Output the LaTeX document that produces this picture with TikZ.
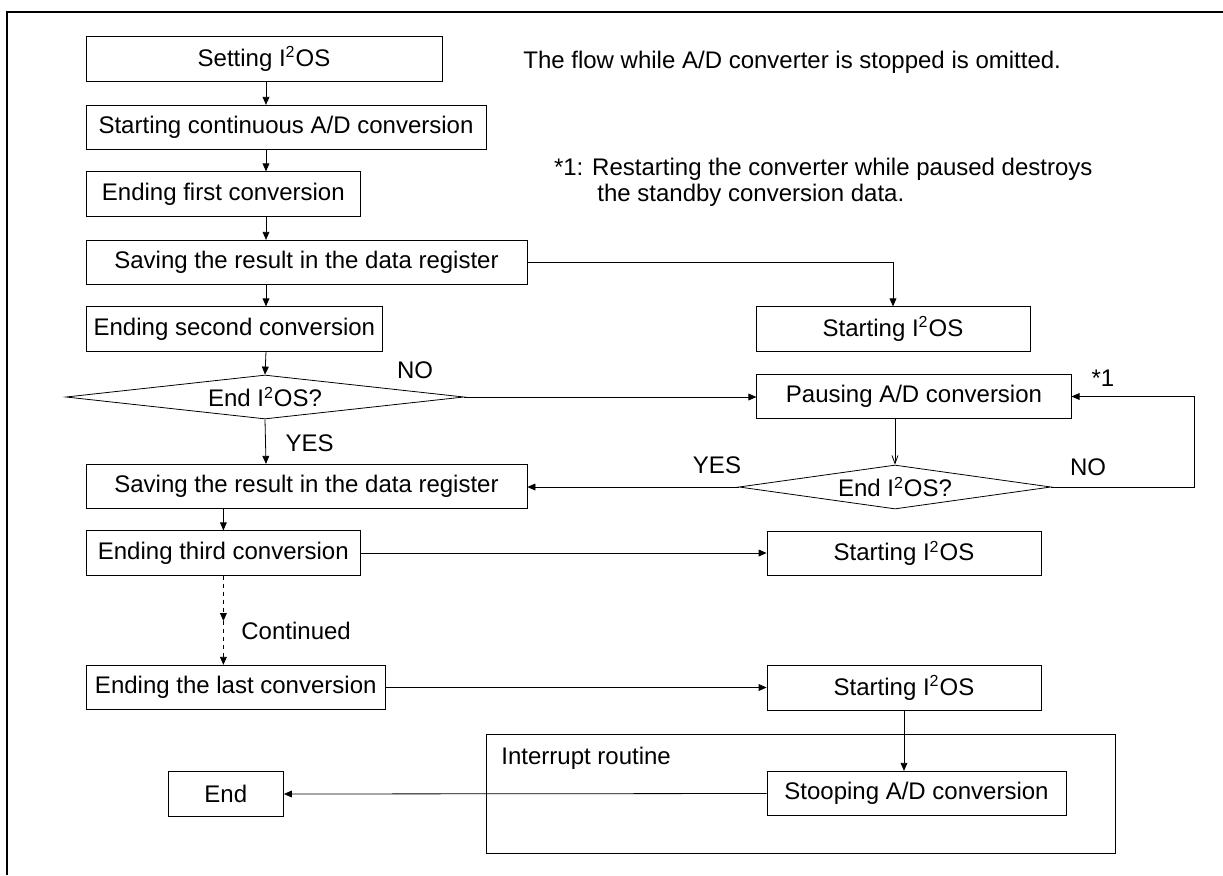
\documentclass[tikz,border=0pt]{standalone}
\usepackage{fontspec}
\setmainfont{Liberation Sans}
\usetikzlibrary{arrows.meta, shapes.geometric}

\newcommand{\iios}{I\textsuperscript{2}OS}

\tikzset{
  box/.style={draw, inner sep=0pt, minimum height=22.25pt},
  decision/.style={draw, diamond, inner sep=0pt, aspect=6, minimum height=22pt},
  lbl/.style={inner sep=0pt},
}

\begin{document}
\begin{tikzpicture}[x=0.5pt, y=-0.5pt, line width=0.4pt,
  >={Triangle[length=4pt, width=3.4pt]},
  font=\fontsize{12}{13}\selectfont]

\useasboundingbox (0,0) rectangle (1223,875);
\draw[line width=0.8pt] (7,875) -- (7,12) -- (1223,12);

% Nodes - left column
\node[box, minimum width=178pt] (set) at (264,59) {Setting \iios};
\node[box, minimum width=200pt] (start) at (286,127.5) {Starting continuous A/D conversion};
\node[box, minimum width=137.3pt] (first) at (223.3,194) {Ending first conversion};
\node[box, minimum width=220.5pt] (save1) at (306.5,262.5) {Saving the result in the data register};
\node[box, minimum width=148.4pt] (second) at (234.4,329) {Ending second conversion};
\node[decision, minimum width=199pt] (end1) at (265,397) {End \iios?};
\node[box, minimum width=220.5pt] (save2) at (306.5,486.5) {Saving the result in the data register};
\node[box, minimum width=137.3pt] (third) at (223.3,553) {Ending third conversion};
\node[box, minimum width=149.75pt] (last) at (235.75,687.5) {Ending the last conversion};
\node[box, minimum width=57.75pt] (endn) at (225.75,794) {End};

% Nodes - right column
\node[box, minimum width=137pt] (startA) at (893,329) {Starting \iios};
\node[box, minimum width=157.2pt] (pause) at (914,396.5) {Pausing A/D conversion};
\node[decision, minimum width=156pt] (end2) at (895,487) {End \iios?};
\node[box, minimum width=137pt] (startB) at (904,553.5) {Starting \iios};
\node[box, minimum width=137pt] (startC) at (904,688) {Starting \iios};
\node[draw, minimum width=314.5pt, minimum height=59.5pt] (intr) at (800.9,793.5) {};
\node[lbl, anchor=west] (intrlbl) at (501,758) {Interrupt routine};
\node[box, minimum width=149.5pt] (stop) at (916.5,793.5) {Stooping A/D conversion};

% Notes and labels
\node[lbl, anchor=west] (note1) at (523,62) {The flow while A/D converter is stopped is omitted.};
\node[lbl, anchor=west, align=left] (note2) at (553.6,182)
  {*1: Restarting the converter while paused destroys\\\hspace*{21.7pt}the standby conversion data.};
\node[lbl] (no1) at (415,370) {NO};
\node[lbl] (yes1) at (309.6,443) {YES};
\node[lbl] (yes2) at (717,465) {YES};
\node[lbl] (no2) at (1088,467) {NO};
\node[lbl] (star) at (1103,378) {*1};
\node[lbl, anchor=west] (cont) at (241,631) {Continued};

\coordinate (spine) at (266,0);
\coordinate (spine2) at (223.4,0);
\coordinate (mid) at (223.4,621);

% Arrows - main flow
\draw[->] (spine |- set.south) -- (spine |- start.north);
\draw[->] (spine |- start.south) -- (spine |- first.north);
\draw[->] (spine |- first.south) -- (spine |- save1.north);
\draw[->] (spine |- save1.south) -- (spine |- second.north);
\draw[->] (spine |- second.south) -- (end1.north);
\draw[->] (end1.south) -- (spine |- save2.north);
\draw[->] (spine2 |- save2.south) -- (spine2 |- third.north);
\draw[dash pattern=on 2pt off 2pt, ->] (spine2 |- third.south) -- (mid);
\draw[dash pattern=on 2pt off 2pt, ->] (mid) -- (spine2 |- last.north);

% Arrows - branches
\draw[->] (save1.east) -| (startA.north);
\draw[->] (end1.east) -- (end1.east -| pause.west);
\draw[-{Straight Barb[length=4pt, width=3pt]}] (end2.north |- pause.south) -- (end2.north);
\draw[->] (end2.west) -- (end2.west -| save2.east);
\draw[->] (end2.east) -- ++(143,0) |- (pause.east);
\draw[->] (third.east) -- (third.east -| startB.west);
\draw[->] (last.east) -- (last.east -| startC.west);
\draw[->] (startC.south) -- (startC.south |- stop.north);
\draw[->] (stop.west) -- (endn.east);

\end{tikzpicture}
\end{document}
